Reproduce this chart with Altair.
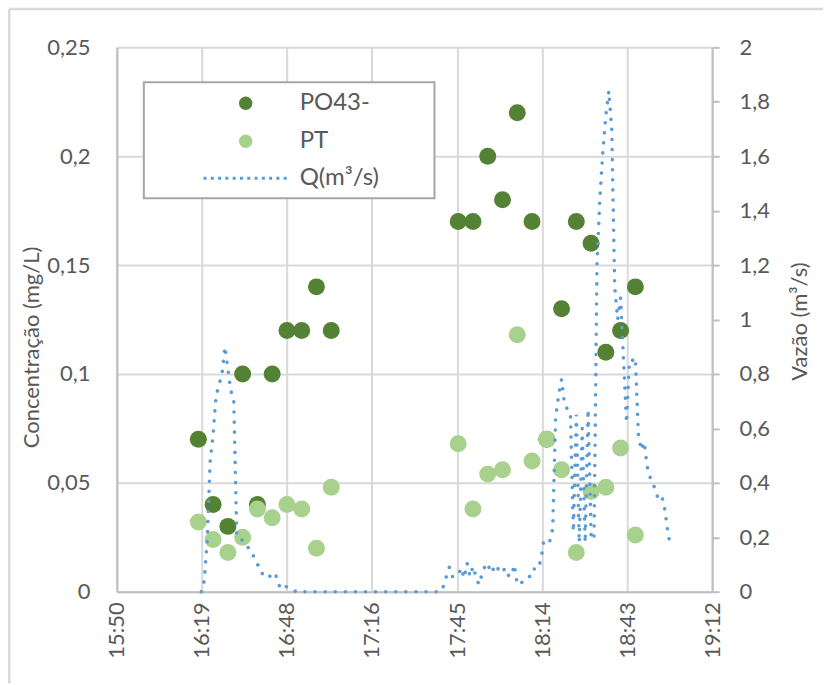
import altair as alt
import pandas as pd

# ---------------- data ----------------
sample_times = ["16:18", "16:23", "16:28", "16:33", "16:38", "16:43", "16:48", "16:53",
                "16:58", "17:03", "17:46", "17:51", "17:56", "18:01", "18:06", "18:11",
                "18:16", "18:21", "18:26", "18:31", "18:36", "18:41", "18:46"]
po4_values = [0.07, 0.04, 0.03, 0.10, 0.04, 0.10, 0.12, 0.12, 0.14, 0.12,
              0.17, 0.17, 0.20, 0.18, 0.22, 0.17, 0.07, 0.13, 0.17, 0.16, 0.11, 0.12, 0.14]
pt_values = [0.032, 0.024, 0.018, 0.025, 0.038, 0.034, 0.040, 0.038, 0.020, 0.048,
             0.068, 0.038, 0.054, 0.056, 0.118, 0.060, 0.070, 0.056, 0.018, 0.046, 0.048, 0.066, 0.026]

# flow, one reading per minute from 16:19
q_start = "16:19"
q_values = [
    0.0, 0.04, 0.19, 0.48, 0.58, 0.72, 0.76, 0.80, 0.90, 0.82, 0.74, 0.70, 0.21, 0.19, 0.19, 0.18,
    0.16, 0.15, 0.12, 0.10, 0.09, 0.055, 0.055, 0.055, 0.065, 0.07, 0.03, 0.01, 0.02, 0.018, 0.015,
    0.01, 0.0,
    0.0, 0.0, 0.0, 0.0, 0.0, 0.0, 0.0, 0.0, 0.0, 0.0, 0.0, 0.0, 0.0, 0.0, 0.0, 0.0, 0.0,
    0.0, 0.0, 0.0, 0.0, 0.0, 0.0, 0.0, 0.0, 0.0, 0.0, 0.0, 0.0, 0.0, 0.0, 0.0, 0.0, 0.0,
    0.0, 0.0, 0.0, 0.0, 0.0, 0.0, 0.0, 0.0, 0.0, 0.0, 0.0, 0.0, 0.0, 0.0, 0.0,
    0.02, 0.056, 0.09, 0.056, 0.056, 0.06, 0.087, 0.05, 0.105, 0.056, 0.093, 0.056, 0.026,
    0.062, 0.093, 0.105, 0.069, 0.085, 0.099, 0.069, 0.075, 0.087, 0.06, 0.056, 0.099, 0.026,
    0.03, 0.038, 0.045, 0.05, 0.083, 0.083, 0.083, 0.117, 0.19, 0.19, 0.185, 0.23, 0.64, 0.72,
    0.78, 0.69, 0.67, 0.66, 0.22, 0.65, 0.18, 0.60, 0.18, 0.67, 0.21, 0.19, 1.20, 1.45, 1.62,
    1.75, 1.84, 1.70, 1.12, 1.00, 1.08, 0.85, 0.62, 0.85, 0.85, 0.86, 0.58, 0.52, 0.55, 0.46,
    0.42, 0.40, 0.36, 0.34, 0.35, 0.30, 0.22, 0.16,
]

series_names = ["PO43-", "PT", "Q(m³/s)"]
x_tick_values = [950.4, 979.2, 1008.0, 1036.8, 1065.6, 1094.4, 1123.2, 1152.0]   # 15:50 ... 19:12
y_left_ticks = [0, 0.05, 0.1, 0.15, 0.2, 0.25]
y_right_ticks = [0, 0.2, 0.4, 0.6, 0.8, 1.0, 1.2, 1.4, 1.6, 1.8, 2.0]


def to_min(s):
    h, m = s.split(":")
    return int(h) * 60 + int(m)


rows = []
for name, vals in (("PO43-", po4_values), ("PT", pt_values)):
    for t, v in zip(sample_times, vals):
        rows.append({"t": to_min(t), "value": v, "series": name})
points_df = pd.DataFrame(rows)
q_df = pd.DataFrame({"t": [to_min(q_start) + i for i in range(len(q_values))], "q": q_values})
frame_df = pd.DataFrame({"k": [0]})

# ---------------- styling ----------------
FONT = "Lato"
TXT = "#595959"
GRID = "#d9d9d9"
AXIS = "#bfbfbf"
DARK = "#548235"
LIGHT = "#a9d18e"
BLUE = "#5b9bd5"

time_label = ("floor(round(datum.value*10)/600) + ':' + "
              "(floor((round(datum.value*10)/10) % 60) < 10 ? '0' : '') + "
              "floor((round(datum.value*10)/10) % 60)")

x_enc = alt.X(
    "t:Q",
    scale=alt.Scale(domain=[950.4, 1152], nice=False, zero=False),
    axis=alt.Axis(values=x_tick_values, labelExpr=time_label, labelAngle=270, labelPadding=10,
                  ticks=False, tickSize=0, title=None, grid=True),
)

legend = alt.Legend(
    orient="none", legendX=27, legendY=35,
    padding=9, rowPadding=12, symbolSize=180, symbolStrokeWidth=3,
    symbolDash=[3, 4.3], symbolOffset=81, labelOffset=42, labelFontSize=24,
    labelColor=TXT, labelFont=FONT,
)

points = alt.Chart(points_df).mark_point(filled=True, opacity=1, size=289, strokeWidth=3).encode(
    x=x_enc,
    y=alt.Y("value:Q", scale=alt.Scale(domain=[0, 0.25], nice=False),
            axis=alt.Axis(values=y_left_ticks, title="Concentração (mg/L)",
                          labelExpr="replace(format(datum.value, '.2~f'), '.', ',')",
                          ticks=False, tickSize=0, labelPadding=27, grid=True,
                          titleX=-85, titleY=300, titleAngle=270, titleAlign="center",
                          titleBaseline="middle")),
    fill=alt.Fill("series:N", title=None, legend=legend,
                  scale=alt.Scale(domain=series_names, range=[DARK, LIGHT, "transparent"])),
    stroke=alt.Stroke("series:N", title=None, legend=legend,
                      scale=alt.Scale(domain=series_names, range=["transparent", "transparent", BLUE])),
    shape=alt.Shape("series:N", title=None, legend=legend,
                    scale=alt.Scale(domain=series_names, range=["circle", "circle", "M-6.3,0H6.3"])),
    order=alt.Order("series:N"),
)

flow = alt.Chart(q_df).mark_line(color=BLUE, strokeWidth=3.5, strokeDash=[0.1, 10],
                                 strokeCap="round").encode(
    x=alt.X("t:Q"),
    y=alt.Y("q:Q", scale=alt.Scale(domain=[0, 2], nice=False),
            axis=alt.Axis(orient="right", values=y_right_ticks, title="Vazão (m³/s)",
                          labelExpr="replace(format(datum.value, '.1~f'), '.', ',')",
                          grid=False, ticks=True, tickSize=7, tickColor=AXIS, tickWidth=2,
                          labelPadding=20, titleAngle=270, titleX=87, titleY=274,
                          titleAlign="center", titleBaseline="middle")),
)

# decorative frames: outer chart border and the legend box
frame_left = alt.Chart(frame_df).mark_rule(color=GRID, strokeWidth=2.5).encode(
    x=alt.value(-107.7), y=alt.value(-38.5), y2=alt.value(637))
frame_top = alt.Chart(frame_df).mark_rule(color=GRID, strokeWidth=2.5).encode(
    x=alt.value(-107.7), x2=alt.value(707), y=alt.value(-38.5))
legend_box = alt.Chart(frame_df).mark_rect(fill="white", stroke="#a6a6a6", strokeWidth=2).encode(
    x=alt.value(27), x2=alt.value(318), y=alt.value(35), y2=alt.value(151))

chart = alt.layer(frame_left, frame_top, legend_box, points, flow).resolve_scale(
    y="independent"
).properties(
    width=596, height=545,
    padding={"left": 8, "top": 7, "right": 0, "bottom": 0},
    background="white",
).configure_view(stroke="transparent").configure_axis(
    labelFont=FONT, titleFont=FONT, labelFontSize=22, titleFontSize=22,
    labelColor=TXT, titleColor=TXT, titleFontWeight="normal",
    domainColor=AXIS, domainWidth=2, gridColor=GRID, gridWidth=2,
)

chart.save("out.html", embed_options={"renderer": "svg", "actions": False})
